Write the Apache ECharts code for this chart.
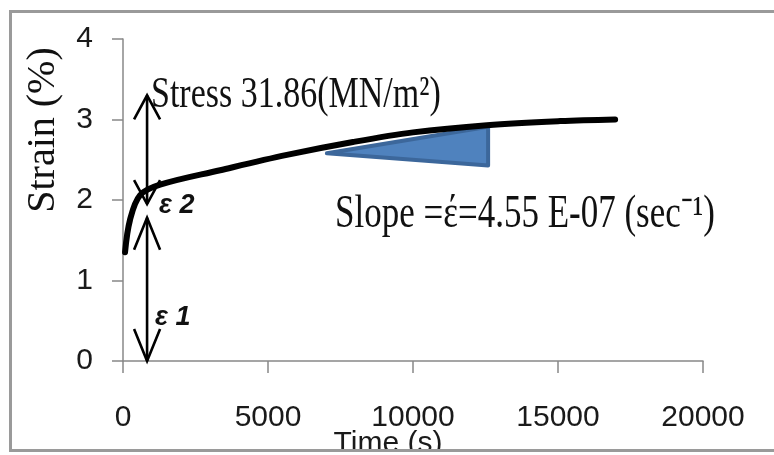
<!DOCTYPE html>
<html><head><meta charset="utf-8">
<script src="https://cdn.jsdelivr.net/npm/echarts@6/dist/echarts.min.js"></script>
<style>html,body{margin:0;padding:0;background:#fff}#c{width:774px;height:455px}</style>
</head><body><div id="c"></div>
<script>
// ---- data ----
const timeS     = [70, 240, 590, 1280, 3350, 5650, 7930, 10000, 12550, 15070, 16970];
const strainPct = [1.35, 1.75, 2.06, 2.19, 2.37, 2.56, 2.72, 2.84, 2.93, 2.98, 3.0];
const slopeTriangle = [[7030, 2.58], [12590, 2.91], [12590, 2.43]];
const strainArrows  = [[830, 0, 1.78], [830, 1.95, 3.3]]; // [time, from, to]
const xTickStep = 5000, xMax = 20000;
const yTickStep = 1, yMax = 4;
const stressText = 'Stress 31.86(MN/m²)';
const slopeText  = 'Slope =έ=4.55 E-07 (sec⁻¹)';
const eps1Text = 'ε 1', eps2Text = 'ε 2';
const xName = 'Time (s)', yName = 'Strain (%)';

const curve = timeS.map((t, i) => [t, strainPct[i]]);

const chart = echarts.init(document.getElementById('c'), null, {renderer: 'canvas'});
const axisGray = '#888888';
const tickFont = {fontFamily: 'Liberation Sans', fontSize: 30, color: '#1a1a1a'};

chart.setOption({
  animation: false,
  backgroundColor: '#ffffff',
  grid: {left: 123, top: 39, right: 71, bottom: 94, containLabel: false, outerBoundsMode: 'none'},
  xAxis: {
    type: 'value', min: 0, max: xMax, interval: xTickStep,
    name: xName, nameLocation: 'middle', nameGap: 68, nameMoveOverlap: false,
    nameTextStyle: Object.assign({}, tickFont, {padding: [0, 50, 0, 0]}),
    axisLine: {show: true, lineStyle: {color: axisGray, width: 1.5}},
    axisTick: {show: true, length: 12, lineStyle: {color: axisGray, width: 1.5}},
    axisLabel: Object.assign({margin: 42, formatter: v => String(v)}, tickFont),
    splitLine: {show: false}
  },
  yAxis: {
    type: 'value', min: 0, max: yMax, interval: yTickStep,
    name: yName, nameLocation: 'middle', nameGap: 60, nameMoveOverlap: false,
    nameTextStyle: {fontFamily: 'Liberation Serif', fontSize: 40, color: '#111', padding: [0, 0, 0, 140]},
    axisLine: {show: true, lineStyle: {color: axisGray, width: 1.5}},
    axisTick: {show: true, length: 11, lineStyle: {color: axisGray, width: 1.5}},
    axisLabel: Object.assign({margin: 30, formatter: v => String(v)}, tickFont),
    splitLine: {show: false}
  },
  series: [
    {
      type: 'custom', name: 'slope', z: 2, silent: true,
      data: [0],
      renderItem: function (params, api) {
        const pts = slopeTriangle.map(p => api.coord(p));
        return {type: 'polygon', shape: {points: pts},
          style: {fill: '#4f82be', stroke: '#3c679b', lineWidth: 4, lineJoin: 'round'}};
      }
    },
    {
      type: 'line', name: 'strain', data: curve, smooth: 0.35, showSymbol: false, z: 3,
      lineStyle: {color: '#000', width: 6, cap: 'round'}
    },
    {
      type: 'custom', name: 'arrows', z: 4, silent: true,
      data: strainArrows, encode: {x: 0, y: [1, 2]},
      renderItem: function (params, api) {
        const x = api.value(0);
        const a = api.coord([x, api.value(1)]);
        const b = api.coord([x, api.value(2)]);
        const hl = params.dataIndex === 1 ? 24 : 32, hw = 13;
        const st = {stroke: '#000', lineWidth: 2.6, fill: 'none'};
        return {type: 'group', children: [
          {type: 'line', shape: {x1: a[0], y1: a[1], x2: b[0], y2: b[1]}, style: st},
          {type: 'polyline', shape: {points: [[a[0] - hw, a[1] - hl], [a[0], a[1]], [a[0] + hw, a[1] - hl]]}, style: st},
          {type: 'polyline', shape: {points: [[b[0] - hw, b[1] + hl], [b[0], b[1]], [b[0] + hw, b[1] + hl]]}, style: st}
        ]};
      }
    }
  ],
  graphic: [
    {type: 'text', x: 151, y: 95, scaleY: 1.3, z: 50,
      style: {text: stressText, font: '34px "Liberation Serif",serif', fill: '#111', textAlign: 'left', textVerticalAlign: 'middle'}},
    {type: 'text', x: 335, y: 215, scaleY: 1.3, z: 50,
      style: {text: slopeText, font: '35px "Liberation Serif",serif', fill: '#111', textAlign: 'left', textVerticalAlign: 'middle'}},
    {type: 'text', x: 159, y: 206, z: 50,
      style: {text: eps2Text, font: 'italic bold 27px "Liberation Sans",sans-serif', fill: '#111', textAlign: 'left', textVerticalAlign: 'middle'}},
    {type: 'text', x: 155, y: 318, z: 50,
      style: {text: eps1Text, font: 'italic bold 27px "Liberation Sans",sans-serif', fill: '#111', textAlign: 'left', textVerticalAlign: 'middle'}},
    {type: 'rect', z: 100, silent: true, shape: {x: 0, y: 452, width: 774, height: 3}, style: {fill: '#fff'}},
    {type: 'rect', z: 101, silent: true, shape: {x: 10.5, y: 11.5, width: 800, height: 439}, style: {fill: 'none', stroke: '#9a9a9a', lineWidth: 3}}
  ]
});
</script></body></html>
